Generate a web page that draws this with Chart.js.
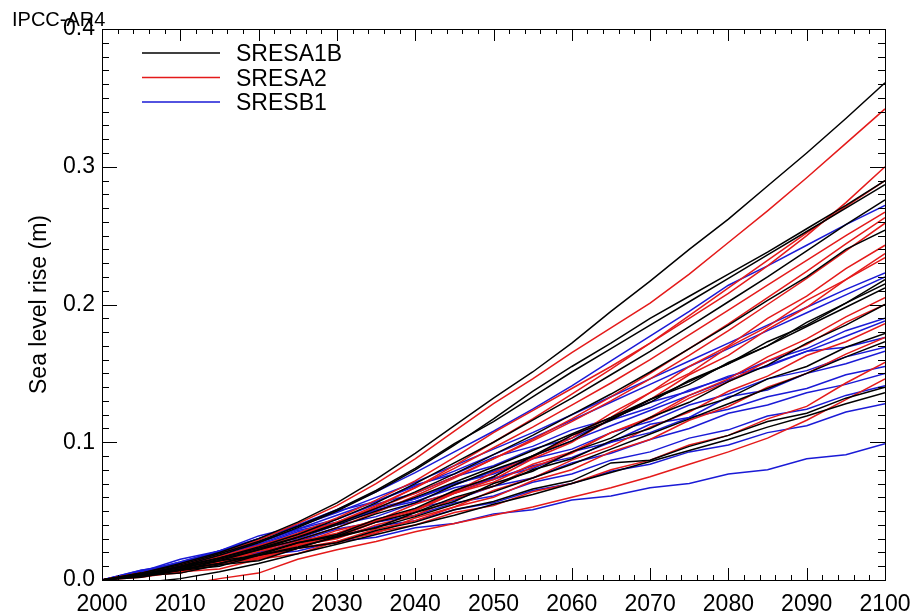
<!DOCTYPE html>
<html>
<head>
<meta charset="utf-8">
<script src="https://cdn.jsdelivr.net/npm/chart.js@4.4.1/dist/chart.umd.min.js"></script>
<style>
  html, body { margin: 0; padding: 0; background: #fff; }
  canvas { display: block; }
</style>
</head>
<body>
<canvas id="slrChart" width="916" height="613"></canvas>
<script>
// sea level rise (m), one value every 5 years, 2000..2100
const years = [2000, 2005, 2010, 2015, 2020, 2025, 2030, 2035, 2040, 2045, 2050,
               2055, 2060, 2065, 2070, 2075, 2080, 2085, 2090, 2095, 2100];

const a1bRuns = [
    [0, 0.005, 0.012, 0.020, 0.030, 0.042, 0.056, 0.073, 0.092, 0.112, 0.132, 0.151, 0.172, 0.195, 0.217, 0.240, 0.262, 0.286, 0.310, 0.335, 0.361],
    [0, 0.004, 0.010, 0.018, 0.027, 0.038, 0.050, 0.064, 0.080, 0.098, 0.117, 0.137, 0.155, 0.172, 0.190, 0.206, 0.222, 0.238, 0.255, 0.272, 0.290],
    [0, 0.005, 0.011, 0.019, 0.028, 0.039, 0.051, 0.065, 0.081, 0.099, 0.115, 0.133, 0.151, 0.168, 0.185, 0.202, 0.219, 0.236, 0.253, 0.270, 0.287],
    [0, 0.004, 0.009, 0.016, 0.024, 0.033, 0.044, 0.056, 0.070, 0.085, 0.100, 0.116, 0.132, 0.149, 0.166, 0.184, 0.202, 0.220, 0.239, 0.258, 0.276],
    [0, 0.003, 0.008, 0.015, 0.022, 0.031, 0.041, 0.052, 0.064, 0.077, 0.091, 0.105, 0.120, 0.135, 0.151, 0.168, 0.185, 0.203, 0.220, 0.240, 0.254],
    [0, 0.004, 0.009, 0.014, 0.022, 0.029, 0.038, 0.048, 0.056, 0.069, 0.080, 0.090, 0.105, 0.116, 0.131, 0.142, 0.158, 0.170, 0.187, 0.201, 0.218],
    [0, 0.003, 0.008, 0.012, 0.019, 0.027, 0.033, 0.044, 0.052, 0.065, 0.075, 0.090, 0.101, 0.117, 0.129, 0.145, 0.157, 0.173, 0.185, 0.201, 0.215],
    [0, 0.004, 0.010, 0.016, 0.023, 0.031, 0.040, 0.050, 0.060, 0.071, 0.082, 0.094, 0.106, 0.118, 0.131, 0.144, 0.157, 0.170, 0.184, 0.198, 0.212],
    [0, 0.002, 0.007, 0.010, 0.018, 0.023, 0.032, 0.038, 0.049, 0.057, 0.070, 0.079, 0.093, 0.103, 0.118, 0.129, 0.144, 0.156, 0.172, 0.185, 0.200],
    [0, 0.004, 0.007, 0.014, 0.018, 0.027, 0.032, 0.042, 0.049, 0.060, 0.068, 0.080, 0.088, 0.101, 0.110, 0.123, 0.132, 0.146, 0.155, 0.169, 0.179],
    [0, 0.003, 0.007, 0.012, 0.018, 0.024, 0.031, 0.038, 0.046, 0.055, 0.064, 0.074, 0.084, 0.095, 0.106, 0.117, 0.128, 0.139, 0.150, 0.162, 0.173],
    [0, 0.003, 0.005, 0.011, 0.014, 0.023, 0.027, 0.036, 0.042, 0.051, 0.057, 0.066, 0.072, 0.085, 0.087, 0.097, 0.105, 0.115, 0.121, 0.132, 0.140],
    [0, -0.002, 0.001, 0.006, 0.012, 0.019, 0.026, 0.033, 0.040, 0.047, 0.055, 0.062, 0.070, 0.078, 0.086, 0.094, 0.102, 0.111, 0.119, 0.128, 0.136]
];

const a2Runs = [
    [0, 0.005, 0.011, 0.019, 0.029, 0.041, 0.054, 0.070, 0.088, 0.108, 0.128, 0.146, 0.165, 0.183, 0.201, 0.222, 0.245, 0.268, 0.292, 0.317, 0.342],
    [0, 0.004, 0.009, 0.016, 0.024, 0.034, 0.045, 0.058, 0.072, 0.089, 0.107, 0.123, 0.139, 0.155, 0.172, 0.190, 0.208, 0.228, 0.250, 0.274, 0.300],
    [0, 0.004, 0.009, 0.015, 0.022, 0.031, 0.041, 0.053, 0.067, 0.083, 0.100, 0.117, 0.135, 0.153, 0.172, 0.192, 0.212, 0.232, 0.252, 0.271, 0.290],
    [0, 0.004, 0.009, 0.016, 0.023, 0.032, 0.042, 0.054, 0.067, 0.081, 0.096, 0.111, 0.127, 0.143, 0.160, 0.178, 0.196, 0.214, 0.232, 0.250, 0.267],
    [0, 0.003, 0.008, 0.014, 0.021, 0.029, 0.038, 0.049, 0.061, 0.074, 0.088, 0.102, 0.117, 0.133, 0.150, 0.168, 0.186, 0.205, 0.224, 0.244, 0.263],
    [0, 0.005, 0.011, 0.017, 0.025, 0.033, 0.042, 0.052, 0.063, 0.075, 0.088, 0.101, 0.115, 0.130, 0.146, 0.163, 0.181, 0.200, 0.219, 0.239, 0.259],
    [0, 0.004, 0.006, 0.013, 0.017, 0.026, 0.032, 0.043, 0.051, 0.064, 0.075, 0.090, 0.103, 0.121, 0.136, 0.155, 0.170, 0.190, 0.206, 0.226, 0.243],
    [0, 0.003, 0.009, 0.013, 0.021, 0.026, 0.036, 0.043, 0.055, 0.064, 0.078, 0.089, 0.105, 0.118, 0.136, 0.150, 0.169, 0.184, 0.203, 0.218, 0.237],
    [0, 0.003, 0.005, 0.012, 0.016, 0.025, 0.031, 0.042, 0.050, 0.063, 0.073, 0.088, 0.100, 0.117, 0.131, 0.149, 0.163, 0.182, 0.198, 0.218, 0.234],
    [0, 0.004, 0.006, 0.013, 0.017, 0.025, 0.030, 0.040, 0.047, 0.059, 0.068, 0.082, 0.092, 0.107, 0.118, 0.134, 0.146, 0.162, 0.175, 0.191, 0.205],
    [0, 0.005, 0.008, 0.015, 0.019, 0.028, 0.034, 0.044, 0.051, 0.063, 0.071, 0.084, 0.093, 0.107, 0.117, 0.132, 0.144, 0.159, 0.171, 0.187, 0.200],
    [0, 0.002, 0.006, 0.008, 0.015, 0.019, 0.028, 0.034, 0.045, 0.053, 0.065, 0.074, 0.087, 0.097, 0.111, 0.122, 0.137, 0.148, 0.163, 0.173, 0.186],
    [0, 0.004, 0.006, 0.012, 0.015, 0.023, 0.028, 0.037, 0.043, 0.053, 0.060, 0.072, 0.080, 0.093, 0.102, 0.116, 0.126, 0.140, 0.150, 0.164, 0.176],
    [0, 0.005, 0.007, 0.013, 0.016, 0.023, 0.027, 0.035, 0.040, 0.049, 0.054, 0.064, 0.070, 0.080, 0.087, 0.098, 0.105, 0.117, 0.126, 0.143, 0.158],
    [0, -0.002, -0.004, 0.001, 0.005, 0.015, 0.022, 0.028, 0.035, 0.041, 0.047, 0.053, 0.060, 0.067, 0.075, 0.084, 0.093, 0.103, 0.116, 0.131, 0.146]
];

const b1Runs = [
    [0, 0.006, 0.013, 0.021, 0.030, 0.040, 0.051, 0.064, 0.078, 0.093, 0.108, 0.124, 0.141, 0.159, 0.177, 0.195, 0.214, 0.228, 0.243, 0.258, 0.272],
    [0, 0.006, 0.013, 0.021, 0.030, 0.039, 0.049, 0.060, 0.071, 0.083, 0.095, 0.107, 0.120, 0.133, 0.146, 0.159, 0.172, 0.185, 0.198, 0.211, 0.223],
    [0, 0.005, 0.012, 0.020, 0.028, 0.037, 0.047, 0.057, 0.068, 0.079, 0.091, 0.103, 0.116, 0.129, 0.142, 0.155, 0.168, 0.181, 0.194, 0.207, 0.220],
    [0, 0.007, 0.012, 0.021, 0.027, 0.037, 0.044, 0.055, 0.063, 0.075, 0.083, 0.095, 0.103, 0.116, 0.125, 0.138, 0.147, 0.159, 0.168, 0.181, 0.190],
    [0, 0.005, 0.011, 0.018, 0.025, 0.033, 0.041, 0.050, 0.059, 0.069, 0.079, 0.090, 0.101, 0.112, 0.123, 0.134, 0.145, 0.156, 0.166, 0.177, 0.188],
    [0, 0.006, 0.015, 0.021, 0.032, 0.039, 0.050, 0.057, 0.069, 0.077, 0.089, 0.097, 0.109, 0.117, 0.129, 0.137, 0.148, 0.155, 0.166, 0.169, 0.176],
    [0, 0.006, 0.011, 0.020, 0.026, 0.036, 0.042, 0.052, 0.059, 0.070, 0.077, 0.088, 0.095, 0.107, 0.115, 0.127, 0.135, 0.146, 0.152, 0.162, 0.169],
    [0, 0.005, 0.012, 0.016, 0.025, 0.030, 0.040, 0.046, 0.056, 0.063, 0.074, 0.081, 0.093, 0.100, 0.113, 0.118, 0.133, 0.138, 0.150, 0.157, 0.166],
    [0, 0.007, 0.011, 0.020, 0.025, 0.035, 0.041, 0.051, 0.057, 0.067, 0.073, 0.083, 0.089, 0.100, 0.107, 0.118, 0.124, 0.133, 0.139, 0.149, 0.155],
    [0, 0.004, 0.011, 0.015, 0.023, 0.028, 0.037, 0.042, 0.052, 0.058, 0.068, 0.074, 0.085, 0.092, 0.102, 0.110, 0.121, 0.127, 0.136, 0.142, 0.150],
    [0, 0.005, 0.008, 0.016, 0.020, 0.028, 0.033, 0.042, 0.047, 0.056, 0.061, 0.071, 0.077, 0.087, 0.093, 0.103, 0.109, 0.119, 0.124, 0.134, 0.141],
    [0, 0.005, 0.009, 0.016, 0.019, 0.027, 0.031, 0.039, 0.043, 0.051, 0.056, 0.065, 0.070, 0.079, 0.084, 0.093, 0.098, 0.107, 0.112, 0.122, 0.128],
    [0, 0.004, 0.009, 0.011, 0.018, 0.021, 0.028, 0.031, 0.038, 0.041, 0.048, 0.051, 0.058, 0.061, 0.067, 0.070, 0.077, 0.080, 0.088, 0.091, 0.099]
];

const scenarioNames = ['SRESA1B', 'SRESA2', 'SRESB1'];
const scenarioColors = ['#000000', '#e41a1a', '#1a1ad6'];
const xTickLabels = [2000, 2010, 2020, 2030, 2040, 2050, 2060, 2070, 2080, 2090, 2100];
const yTickLabels = ['0.0', '0.1', '0.2', '0.3', '0.4'];

const font = { family: "'Liberation Sans', Arial, sans-serif", size: 23 };

function runDatasets(runs, idx) {
    return runs.map((run, i) => ({
        label: scenarioNames[idx] + ' ' + (i + 1),
        data: run.map((v, k) => ({ x: years[k], y: v })),
        borderColor: scenarioColors[idx],
        borderWidth: 1.5,
        pointRadius: 0,
        tension: 0,
        fill: false
    }));
}

const datasets = [
    ...runDatasets(a1bRuns, 0),
    ...runDatasets(a2Runs, 1),
    ...runDatasets(b1Runs, 2)
];

// frame with inward ticks on all four sides, legend and corner label
const frameAndLegend = {
    id: 'frameAndLegend',
    afterDatasetsDraw(chart) {
        const { ctx, chartArea: a, scales: { x, y } } = chart;
        ctx.save();
        ctx.strokeStyle = '#000';
        ctx.lineWidth = 1;
        ctx.strokeRect(a.left + 0.5, a.top + 0.5, a.right - a.left, a.bottom - a.top);

        ctx.beginPath();
        for (let yr = 2000; yr <= 2100; yr += 2) {
            const px = Math.round(x.getPixelForValue(yr)) + 0.5;
            const len = yr % 10 === 0 ? 12 : 5;
            ctx.moveTo(px, a.bottom); ctx.lineTo(px, a.bottom - len);
            ctx.moveTo(px, a.top); ctx.lineTo(px, a.top + len);
        }
        for (let i = 0; i <= 40; i++) {
            const py = Math.round(y.getPixelForValue(i / 100)) + 0.5;
            const len = i % 10 === 0 ? 15 : 7;
            ctx.moveTo(a.left, py); ctx.lineTo(a.left + len, py);
            ctx.moveTo(a.right, py); ctx.lineTo(a.right - len, py);
        }
        ctx.stroke();

        // legend
        ctx.font = "23px 'Liberation Sans', Arial, sans-serif";
        ctx.textBaseline = 'alphabetic';
        ctx.textAlign = 'left';
        scenarioNames.forEach((name, i) => {
            const ly = 53 + i * 24.5;
            ctx.strokeStyle = scenarioColors[i];
            ctx.lineWidth = 1.5;
            ctx.beginPath();
            ctx.moveTo(142, ly);
            ctx.lineTo(220, ly);
            ctx.stroke();
            ctx.fillStyle = '#000';
            ctx.fillText(name, 236, ly + 8);
        });

        ctx.font = "20px 'Liberation Sans', Arial, sans-serif";
        ctx.fillStyle = '#000';
        ctx.fillText('IPCC-AR4', 12, 26);
        ctx.restore();
    }
};

new Chart(document.getElementById('slrChart').getContext('2d'), {
    type: 'line',
    data: { datasets: datasets },
    options: {
        responsive: false,
        animation: false,
        layout: { padding: { top: 29, right: 31, left: 0, bottom: 0 } },
        plugins: {
            legend: { display: false },
            tooltip: { enabled: false }
        },
        scales: {
            x: {
                type: 'linear',
                min: 2000,
                max: 2100,
                afterFit: function (scale) {
                    scale.height = 33;
                    scale.paddingLeft = 0;
                    scale.paddingRight = 0;
                },
                grid: { display: false, drawTicks: false },
                border: { display: false },
                ticks: {
                    stepSize: 10,
                    padding: 11,
                    color: '#000',
                    font: font,
                    maxRotation: 0,
                    autoSkip: false,
                    callback: function (value) {
                        return xTickLabels.includes(value) ? String(value) : '';
                    }
                }
            },
            y: {
                min: 0,
                max: 0.4,
                afterFit: function (scale) {
                    scale.width = 102;
                    scale.paddingTop = 0;
                    scale.paddingBottom = 0;
                },
                grid: { display: false, drawTicks: false },
                border: { display: false },
                ticks: {
                    stepSize: 0.1,
                    padding: 7,
                    color: '#000',
                    font: font,
                    callback: function (value) {
                        return yTickLabels[Math.round(value * 10)];
                    }
                },
                title: {
                    display: true,
                    text: 'Sea level rise (m)',
                    color: '#000',
                    font: font,
                    padding: { top: 26, bottom: 0 }
                }
            }
        }
    },
    plugins: [frameAndLegend]
});
</script>
</body>
</html>
